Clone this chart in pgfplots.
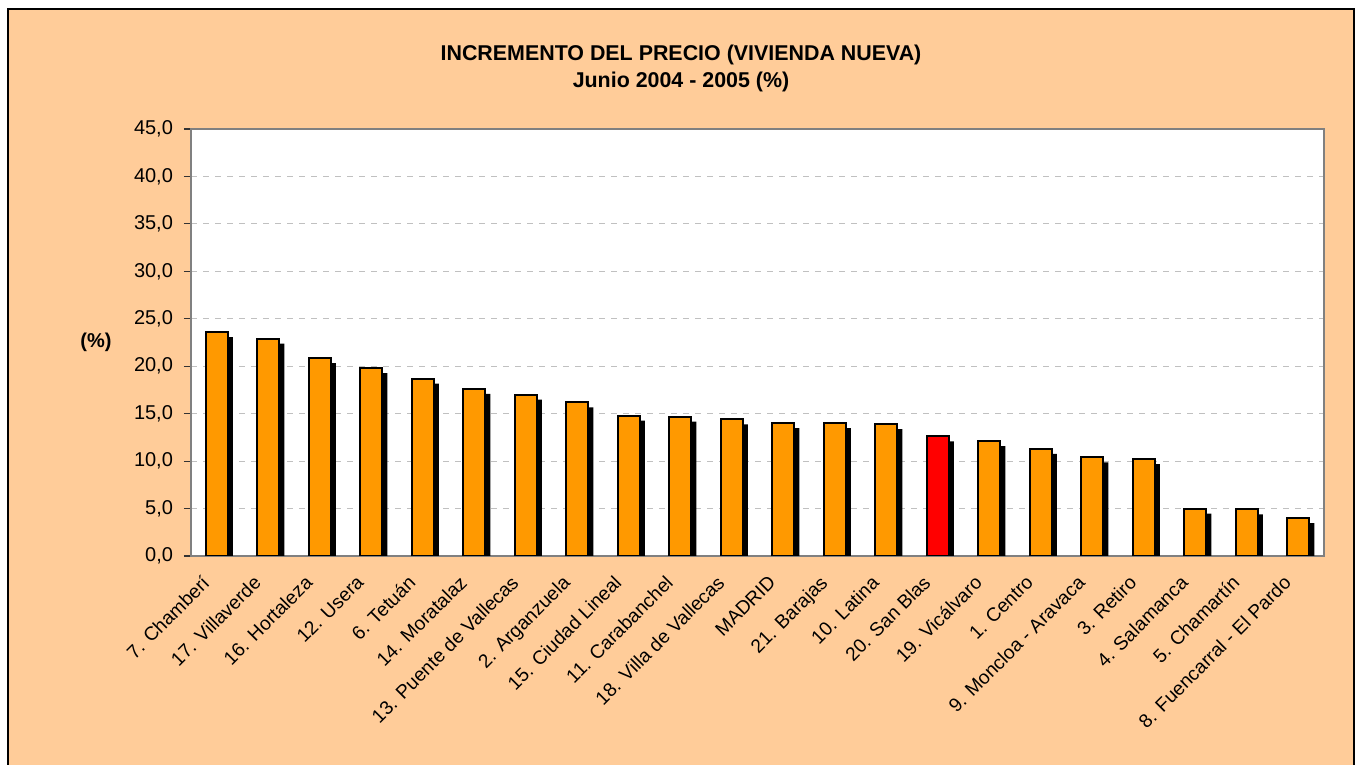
\documentclass[border=0pt]{standalone}
\usepackage{pgfplots}
\pgfplotsset{compat=1.18}
\usepackage{pgfplotstable}
\usepackage{fontspec}
\setmainfont{Liberation Sans}
\definecolor{peach}{HTML}{FFCC99}
\definecolor{barorange}{HTML}{FF9900}
\definecolor{barred}{HTML}{FF0000}
\definecolor{gridgray}{HTML}{C0C0C0}
\definecolor{framegray}{HTML}{808080}
\pgfplotstableread{
x v
0 23.6
1 22.9
2 20.85
3 19.8
4 18.7
5 17.6
6 17.0
7 16.2
8 14.8
9 14.7
10 14.4
11 14.0
12 14.0
13 13.9
14 12.6
15 12.1
16 11.3
17 10.4
18 10.2
19 5.0
20 4.9
21 4.0
}\datatab
\pgfplotstableread{
x v
14 12.6
}\redtab
\begin{document}
\begin{tikzpicture}
\clip (0,0) rectangle (678.5pt,382.5pt);
\fill[white] (0,0) rectangle (678.5pt,382.5pt);
\fill[peach] (4pt,-5pt) rectangle (677pt,378pt);
\draw[black, line width=0.9pt] (4pt,-5pt) -- (4pt,378pt) -- (677pt,378pt) -- (677pt,-5pt);
\node[font=\bfseries\fontsize{10.7}{12}\selectfont] at (340.5pt,355pt) {INCREMENTO DEL PRECIO (VIVIENDA NUEVA)};
\node[font=\bfseries\fontsize{10.7}{12}\selectfont] at (340.5pt,341.5pt) {Junio 2004 - 2005 (\%)};
\node[font=\bfseries\fontsize{10}{12}\selectfont] at (48pt,211.5pt) {(\%)};
\begin{axis}[
  at={(95.5pt,104.5pt)}, anchor=south west,
  scale only axis,
  width=566.5pt, height=213.5pt,
  axis background/.style={fill=white},
  xmin=-0.5, xmax=21.5,
  ymin=0, ymax=45,
  ytick={0,5,...,45},
  xtick={0,...,21},
  xticklabels={7. Chamberí, 17. Villaverde, 16. Hortaleza, 12. Usera, 6. Tetuán, 14. Moratalaz, 13. Puente de Vallecas, 2. Arganzuela, 15. Ciudad Lineal, 11. Carabanchel, 18. Villa de Vallecas, MADRID, 21. Barajas, 10. Latina, 20. San Blas, 19. Vicálvaro, 1. Centro, 9. Moncloa - Aravaca, 3. Retiro, 4. Salamanca, 5. Chamartín, 8. Fuencarral - El Pardo},
  x tick label style={xshift=-8pt, yshift=-4pt, rotate=45, anchor=north east, font=\fontsize{9.6}{12}\selectfont, inner sep=1pt},
  y tick label style={font=\fontsize{10}{12}\selectfont, xshift=-2pt},
  /pgf/number format/assume math mode=true,
  yticklabel={\pgfmathprintnumber[fixed, fixed zerofill, precision=1, use comma]{\tick}},
  major x tick style={draw=none},
  extra x ticks={-0.5,0.5,...,21.5},
  extra x tick labels={},
  extra x tick style={major tick length=3.5pt, tick style={draw=black!80, line width=0.6pt}},
  tick align=outside,
  major tick length=3.5pt,
  ytick style={draw=black!80, line width=0.6pt},
  xtick pos=bottom, ytick pos=left,
  ymajorgrids,
  grid style={dashed, gridgray, line width=0.5pt},
  axis line style={framegray, line width=1pt},
  ybar, bar width=11pt,
]
\addplot[fill=black, draw=none, bar shift=2.5pt, yshift=-2.5pt] table[x=x,y=v] {\datatab};
\addplot[fill=barorange, draw=black, line width=1pt, bar shift=0pt] table[x=x,y=v] {\datatab};
\addplot[fill=barred, draw=black, line width=1pt, bar shift=0pt] table[x=x,y=v] {\redtab};
\end{axis}
\end{tikzpicture}
\end{document}
